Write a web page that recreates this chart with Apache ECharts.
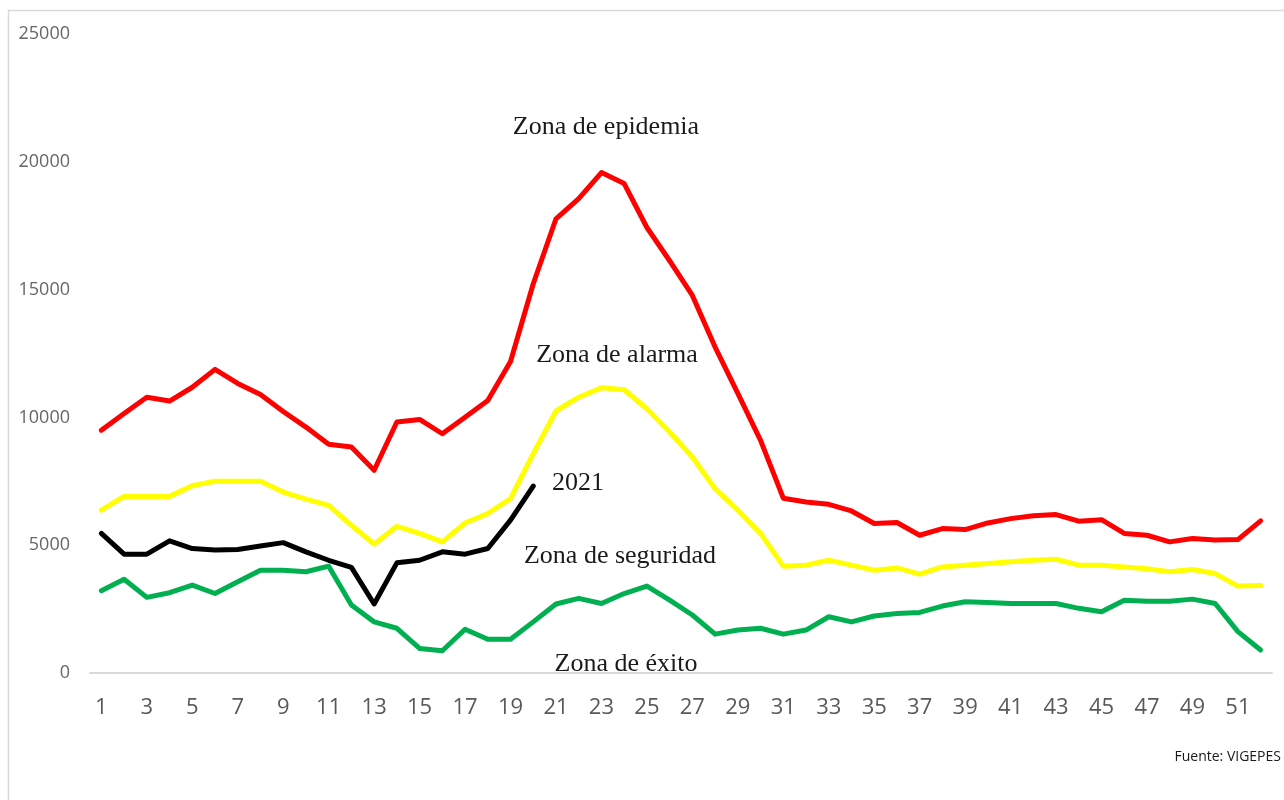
<!DOCTYPE html>
<html>
<head>
<meta charset="utf-8">
<script src="https://cdn.jsdelivr.net/npm/echarts@6/dist/echarts.min.js"></script>
<style>
html,body{margin:0;padding:0;background:#fff;}
#chart{width:1284px;height:800px;}
</style>
</head>
<body>
<div id="chart"></div>
<script>
const weeks = Array.from({length: 52}, (_, i) => String(i + 1));
const yTicks = [0, 5000, 10000, 15000, 20000, 25000];

const epidemia = [9500, 10150, 10790, 10640, 11180, 11880, 11330, 10900, 10230, 9620,
  8950, 8840, 7930, 9820, 9920, 9360, 10010, 10660, 12190, 15230,
  17770, 18560, 19580, 19150, 17430, 16130, 14770, 12750, 10940, 9100,
  6840, 6690, 6600, 6340, 5850, 5890, 5390, 5650, 5610, 5870,
  6040, 6150, 6200, 5940, 6000, 5460, 5390, 5130, 5260, 5200,
  5220, 5950];

const alarma = [6370, 6910, 6910, 6910, 7330, 7500, 7500, 7500, 7080, 6800,
  6560, 5780, 5040, 5740, 5460, 5130, 5870, 6240, 6820, 8580,
  10250, 10790, 11160, 11080, 10340, 9430, 8450, 7210, 6370, 5460,
  4180, 4220, 4410, 4220, 4020, 4110, 3870, 4150, 4220, 4280,
  4350, 4410, 4450, 4220, 4220, 4150, 4080, 3960, 4050, 3890,
  3400, 3420];

const seguridad = [3220, 3670, 2960, 3140, 3440, 3110, 3570, 4020, 4020, 3960,
  4180, 2660, 2000, 1750, 960, 870, 1710, 1320, 1320, 2000,
  2700, 2920, 2720, 3110, 3400, 2850, 2270, 1520, 1680, 1750,
  1520, 1680, 2200, 2000, 2230, 2330, 2370, 2620, 2790, 2760,
  2720, 2720, 2720, 2530, 2400, 2850, 2810, 2810, 2890, 2720,
  1620, 900];

const year2021 = [5460, 4650, 4650, 5170, 4870, 4810, 4830, 4970, 5100, 4740,
  4410, 4130, 2700, 4310, 4410, 4740, 4650, 4870, 5980, 7310];

const chart = echarts.init(document.getElementById('chart'));

const serifFont = '"Liberation Serif", "DejaVu Serif", serif';
const sansFont = '"Open Sans", "Liberation Sans", sans-serif';

function lineSeries(name, data, color) {
  return {
    name: name,
    type: 'line',
    data: data,
    symbol: 'none',
    smooth: false,
    lineStyle: {color: color, width: 5, join: 'round', cap: 'round'},
    itemStyle: {color: color},
    animation: false
  };
}

function annot(x, y, text) {
  return {type: 'text', x: x, y: y,
    style: {text: text, font: '26px ' + serifFont, fill: '#1a1a1a', textAlign: 'center', textVerticalAlign: 'middle'}};
}

chart.setOption({
  backgroundColor: '#ffffff',
  animation: false,
  grid: {left: 90, right: 12, top: 34, bottom: 127, containLabel: false},
  xAxis: {
    type: 'category',
    data: weeks,
    boundaryGap: true,
    axisLine: {show: true, lineStyle: {color: '#d9d9d9', width: 2}},
    axisTick: {show: false},
    axisLabel: {
      interval: 1,
      color: '#595959',
      fontFamily: sansFont,
      fontSize: 22,
      margin: 24
    },
    splitLine: {show: false}
  },
  yAxis: {
    type: 'value',
    min: yTicks[0],
    max: yTicks[yTicks.length - 1],
    interval: yTicks[1] - yTicks[0],
    axisLine: {show: false},
    axisTick: {show: false},
    splitLine: {show: false},
    axisLabel: {
      color: '#666666',
      fontFamily: sansFont,
      fontSize: 18,
      margin: 20,
      formatter: function (v) { return String(v); }
    }
  },
  series: [
    lineSeries('Zona de epidemia', epidemia, '#ff0000'),
    lineSeries('Zona de alarma', alarma, '#ffff00'),
    lineSeries('Zona de seguridad', seguridad, '#00b050'),
    lineSeries('2021', year2021, '#000000')
  ],
  graphic: [
    {type: 'rect', shape: {x: 8.5, y: 10.5, width: 1300, height: 820},
     style: {fill: 'none', stroke: '#d9d9d9', lineWidth: 1.5}, silent: true, z: -1},
    annot(606, 127, 'Zona de epidemia'),
    annot(617, 355, 'Zona de alarma'),
    annot(578, 483, '2021'),
    annot(620, 556, 'Zona de seguridad'),
    annot(626, 664, 'Zona de éxito'),
    {type: 'text', x: 1281, y: 757, style: {text: 'Fuente: VIGEPES', font: '14px ' + sansFont, fill: '#1a1a1a', textAlign: 'right', textVerticalAlign: 'middle'}}
  ]
});
</script>
</body>
</html>
